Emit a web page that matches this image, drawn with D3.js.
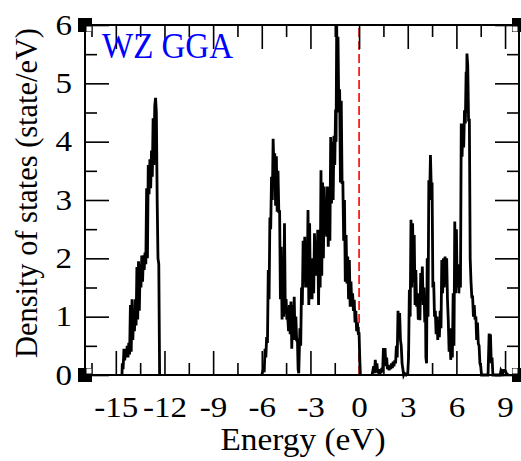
<!DOCTYPE html>
<html>
<head>
<meta charset="utf-8">
<script src="https://cdnjs.cloudflare.com/ajax/libs/d3/7.8.5/d3.min.js"></script>
<style>
  body { margin: 0; background: #fff; }
  text { font-family: "Liberation Serif", "Times New Roman", serif; }
</style>
</head>
<body>
<svg id="chart" width="521" height="461"></svg>
<script>
// [energy (eV), DOS (state/eV)], band by band
var semicoreBand = [
  [-14.62,0],[-14.6,0.2],[-14.55,0.1],[-14.5,0.45],[-14.45,0.25],[-14.4,0.45],[-14.35,0.3],
  [-14.3,0.5],[-14.25,0.3],[-14.2,0.55],[-14.15,0.35],[-14.1,1.2],[-14.05,0.4],[-14.0,1.3],
  [-13.95,0.6],[-13.9,1.1],[-13.85,0.75],[-13.8,1.3],[-13.75,0.85],[-13.7,1.85],[-13.65,0.95],
  [-13.6,1.95],[-13.55,1.1],[-13.5,1.9],[-13.45,1.5],[-13.4,2.05],[-13.35,1.6],[-13.3,2.05],
  [-13.25,1.8],[-13.2,2.1],[-13.15,1.9],[-13.1,3.2],[-13.05,2.0],[-13.0,3.6],[-12.95,3.1],
  [-12.9,3.7],[-12.85,3.2],[-12.8,3.85],[-12.75,3.4],[-12.7,4.4],[-12.65,3.6],[-12.6,4.6],
  [-12.55,4.75],[-12.5,4.5],[-12.45,3.0],[-12.4,2.0],[-12.35,1.9],[-12.3,0]
];

var valenceBand = [
  [-6.0,0],[-5.9,0.1],[-5.85,0.05],[-5.8,0.45],[-5.75,0.3],[-5.7,0.65],[-5.65,0.55],
  [-5.6,1.8],[-5.55,1.3],[-5.5,2.7],[-5.45,2.5],[-5.4,3.4],[-5.35,3.0],[-5.3,4.05],
  [-5.25,3.5],[-5.2,3.8],[-5.15,2.9],[-5.1,3.75],[-5.05,2.8],[-5.0,3.5],[-4.95,2.8],
  [-4.9,2.8],[-4.85,1.3],[-4.8,2.2],[-4.75,0.95],[-4.7,2.0],[-4.65,1.0],[-4.6,2.6],
  [-4.55,1.05],[-4.5,1.3],[-4.45,0.95],[-4.4,1.0],[-4.35,0.75],[-4.3,1.2],[-4.25,0.7],
  [-4.2,1.26],[-4.15,0.45],[-4.1,1.2],[-4.05,0.6],[-4.0,1.34],[-3.95,0.6],[-3.9,1.0],
  [-3.85,0.6],[-3.8,0.6],[-3.76,0.1],[-3.72,0.03],[-3.65,0.8],[-3.6,0.5],[-3.55,1.5],
  [-3.5,1.2],[-3.45,2.3],[-3.4,1.6],[-3.35,2.37],[-3.3,1.5],[-3.25,2.1],[-3.2,1.5],
  [-3.15,2.83],[-3.1,1.2],[-3.05,2.6],[-3.0,1.3],[-2.95,1.97],[-2.9,1.3],[-2.85,2.0],
  [-2.8,1.4],[-2.75,2.43],[-2.7,1.7],[-2.65,2.3],[-2.6,1.7],[-2.55,2.49],[-2.5,1.2],
  [-2.45,2.4],[-2.4,1.5],[-2.35,3.51],[-2.3,1.7],[-2.25,3.3],[-2.2,2.0],[-2.15,3.23],
  [-2.1,2.4],[-2.05,3.0],[-2.0,2.37],[-1.95,3.23],[-1.9,2.2],[-1.85,3.1],[-1.8,2.3],
  [-1.75,4.08],[-1.7,2.94],[-1.65,4.0],[-1.6,3.0],[-1.55,4.1],[-1.5,3.6],[-1.45,4.55],
  [-1.42,4.0],[-1.38,6.0],[-1.34,4.5],[-1.3,5.8],[-1.25,4.5],[-1.2,4.9],[-1.15,3.3],
  [-1.1,4.7],[-1.05,3.3],[-1.0,3.3],[-0.95,2.3],[-0.9,3.0],[-0.85,1.6],[-0.8,2.4],
  [-0.75,1.57],[-0.7,2.03],[-0.65,1.3],[-0.6,1.97],[-0.55,1.17],[-0.5,1.6],[-0.45,1.17],
  [-0.4,1.4],[-0.35,1.1],[-0.3,1.29],[-0.25,0.9],[-0.2,1.1],[-0.15,0.75],[-0.1,0.9],
  [-0.05,0.71],[0.0,0.71],[0.04,0.3],[0.08,0]
];

var conductionBand = [
  [0.8,0],[0.9,0.15],[0.95,0.03],[1.0,0.26],[1.05,0.05],[1.1,0.2],[1.15,0.03],[1.2,0.08],
  [1.25,0.0],[1.3,0.1],[1.35,0.03],[1.4,0.12],[1.45,0.05],[1.5,0.46],[1.55,0.2],[1.6,0.46],
  [1.65,0.15],[1.7,0.3],[1.75,0.1],[1.8,0.17],[1.85,0.08],[1.9,0.15],[1.95,0.1],[2.0,0.2],
  [2.05,0.12],[2.1,0.23],[2.15,0.15],[2.2,0.25],[2.25,0.2],[2.3,0.5],[2.35,0.3],[2.4,1.1],
  [2.45,0.7],[2.5,1.06],[2.55,0.6],[2.6,0.5],[2.65,0.2],[2.7,0.1],[2.75,0.0],[2.8,0.03],
  [2.9,0.0],[3.0,0.03],[3.05,0.3],[3.1,1.46],[3.15,1.0],[3.2,2.66],[3.25,1.5],[3.3,2.6],
  [3.35,1.6],[3.4,2.4],[3.45,1.2],[3.5,1.8],[3.55,1.17],[3.6,1.4],[3.65,0.95],[3.7,1.4],
  [3.75,0.94],[3.8,1.75],[3.85,1.4],[3.9,1.86],[3.95,1.2],[4.0,1.5],[4.05,0.9],[4.1,1.0],
  [4.12,0.3],[4.16,0.2],[4.2,2.0],[4.25,1.0],[4.3,3.34],[4.35,3.0],[4.4,3.77],[4.45,3.2],
  [4.5,3.3],[4.55,1.5],[4.6,1.6],[4.65,1.0],[4.7,1.1],[4.75,0.7],[4.8,1.0],[4.85,0.6],
  [4.9,0.9],[4.95,0.65],[5.0,1.1],[5.05,0.8],[5.1,1.97],[5.15,1.4],[5.2,2.0],[5.25,1.5],
  [5.3,2.03],[5.35,1.63],[5.4,2.0],[5.45,1.29],[5.5,0.94],[5.55,0.4],[5.6,0.8],[5.65,0.26],
  [5.7,0.7],[5.75,0.3],[5.8,1.4],[5.85,0.5],[5.9,2.63],[5.95,1.4],[6.0,2.5],[6.05,1.5],
  [6.1,1.9],[6.15,1.4],[6.2,1.8],[6.25,1.5],[6.3,4.31],[6.35,3.74],[6.4,4.3],[6.45,3.9],
  [6.5,4.54],[6.55,4.31],[6.6,5.2],[6.62,4.5],[6.65,5.51],[6.7,5.3],[6.75,4.37],[6.8,4.37],
  [6.85,2.0],[6.9,1.6],[6.95,1.34],[7.0,1.34],[7.05,1.0],[7.1,1.2],[7.15,0.95],[7.2,1.0],
  [7.25,0.6],[7.3,0.9],[7.35,0.54],[7.4,0.5],[7.45,0.2],[7.5,0.15],[7.55,0],[7.95,0],
  [8.02,0.71],[8.06,0.4],[8.1,0.7],[8.15,0.2],[8.2,0.3],[8.25,0],[8.7,0],[8.75,0.08],
  [8.85,0.03],[8.9,0.08],[9.0,0.08],[9.1,0.02],[9.2,0]
];

var xMajorTicks = [-15, -12, -9, -6, -3, 0, 3, 6, 9];
var xMinorTicks = [-16.5, -13.5, -10.5, -7.5, -4.5, -1.5, 1.5, 4.5, 7.5];
var yMajorTicks = [0, 1, 2, 3, 4, 5, 6];
var yMinorTicks = [0.5, 1.5, 2.5, 3.5, 4.5, 5.5];
var fermiLevel = 0;
var chartLabel = "WZ GGA";

var margin = {top: 25, right: 2, bottom: 86, left: 85},
  width = 521 - margin.left - margin.right,
  height = 461 - margin.top - margin.bottom;

var svg = d3.select("#chart")
  .append("g")
  .attr("transform", "translate(" + margin.left + "," + margin.top + ")");

var x = d3.scaleLinear().domain([-16.9, 9.86]).range([0, width]);
var y = d3.scaleLinear().domain([0, 6]).range([height, 0]);

// fermi level, dashed red
svg.append("line")
  .attr("x1", x(fermiLevel)).attr("x2", x(fermiLevel))
  .attr("y1", y(0)).attr("y2", y(6))
  .attr("stroke", "#ff0000")
  .attr("stroke-width", 1.6)
  .attr("stroke-dasharray", "9,4");

// the DOS curve
var line = d3.line()
  .x(function(d) { return x(d[0]); })
  .y(function(d) { return y(d[1]); });

[semicoreBand, valenceBand, conductionBand].forEach(function(band) {
  svg.append("path")
    .datum(band)
    .attr("fill", "none")
    .attr("stroke", "#000")
    .attr("stroke-width", 2.8)
    .attr("stroke-linejoin", "miter")
    .attr("d", line);
});

// ticks on all four sides, pointing inward
function styleAxis(g, origin) {
  g.select(".domain").remove();
  g.selectAll("line").attr("stroke", "#000").attr("stroke-width", 1.6);
  g.selectAll("text")
    .attr("fill", "#000")
    .style("font-size", "29px")
    .style("font-family", '"Liberation Serif", "Times New Roman", serif')
    .style("transform-box", "fill-box")
    .style("transform-origin", origin || "center")
    .style("transform", "scaleX(1.14)");
}

svg.append("g")
  .attr("transform", "translate(0," + height + ")")
  .call(d3.axisBottom(x).tickValues(xMinorTicks).tickSize(-12).tickFormat(""))
  .call(styleAxis);
svg.append("g")
  .attr("transform", "translate(0," + height + ")")
  .call(d3.axisBottom(x).tickValues(xMajorTicks).tickSize(-24).tickPadding(21)
    .tickFormat(function(d) { return String(d).replace("\u2212", "-"); }))
  .call(styleAxis);
svg.append("g")
  .call(d3.axisTop(x).tickValues(xMinorTicks).tickSize(-12).tickFormat(""))
  .call(styleAxis);
svg.append("g")
  .call(d3.axisTop(x).tickValues(xMajorTicks).tickSize(-24).tickFormat(""))
  .call(styleAxis);

svg.append("g")
  .call(d3.axisLeft(y).tickValues(yMinorTicks).tickSize(-12).tickFormat(""))
  .call(styleAxis);
svg.append("g")
  .call(d3.axisLeft(y).tickValues(yMajorTicks).tickSize(-24).tickPadding(13).tickFormat(d3.format("d")))
  .call(styleAxis, "right center");
svg.append("g")
  .attr("transform", "translate(" + width + ",0)")
  .call(d3.axisRight(y).tickValues(yMinorTicks).tickSize(-12).tickFormat(""))
  .call(styleAxis);
svg.append("g")
  .attr("transform", "translate(" + width + ",0)")
  .call(d3.axisRight(y).tickValues(yMajorTicks).tickSize(-24).tickFormat(""))
  .call(styleAxis);

// frame
svg.append("rect")
  .attr("x", 0).attr("y", 0)
  .attr("width", width).attr("height", height)
  .attr("fill", "none")
  .attr("stroke", "#000")
  .attr("stroke-width", 2);

// corner markers
var corners = [[0, 0, 1, 1], [width, 0, -1, 1], [0, height, 1, -1], [width, height, -1, -1]];
corners.forEach(function(c) {
  svg.append("rect")
    .attr("x", c[0] - 7).attr("y", c[1] - 7)
    .attr("width", 14).attr("height", 14)
    .attr("fill", "#000");
  svg.append("rect")
    .attr("x", c[2] > 0 ? c[0] + 1.5 : c[0] - 6.5)
    .attr("y", c[3] > 0 ? c[1] + 1.5 : c[1] - 6.5)
    .attr("width", 5).attr("height", 5)
    .attr("fill", "#fff");
});

// label inside the plot
svg.append("text")
  .attr("x", 17)
  .attr("y", 33)
  .attr("fill", "#0000ff")
  .attr("textLength", 131)
  .attr("lengthAdjust", "spacingAndGlyphs")
  .style("font-size", "35px")
  .text(chartLabel);

// axis titles
svg.append("text")
  .attr("x", width / 2 + 1)
  .attr("y", height + 75)
  .attr("text-anchor", "middle")
  .attr("textLength", 165)
  .attr("lengthAdjust", "spacingAndGlyphs")
  .style("font-size", "31px")
  .text("Energy (eV)");

svg.append("text")
  .attr("transform", "rotate(-90)")
  .attr("x", -168)
  .attr("y", -48)
  .attr("text-anchor", "middle")
  .attr("textLength", 330)
  .attr("lengthAdjust", "spacingAndGlyphs")
  .style("font-size", "31px")
  .text("Density of states (state/eV)");
</script>
</body>
</html>
